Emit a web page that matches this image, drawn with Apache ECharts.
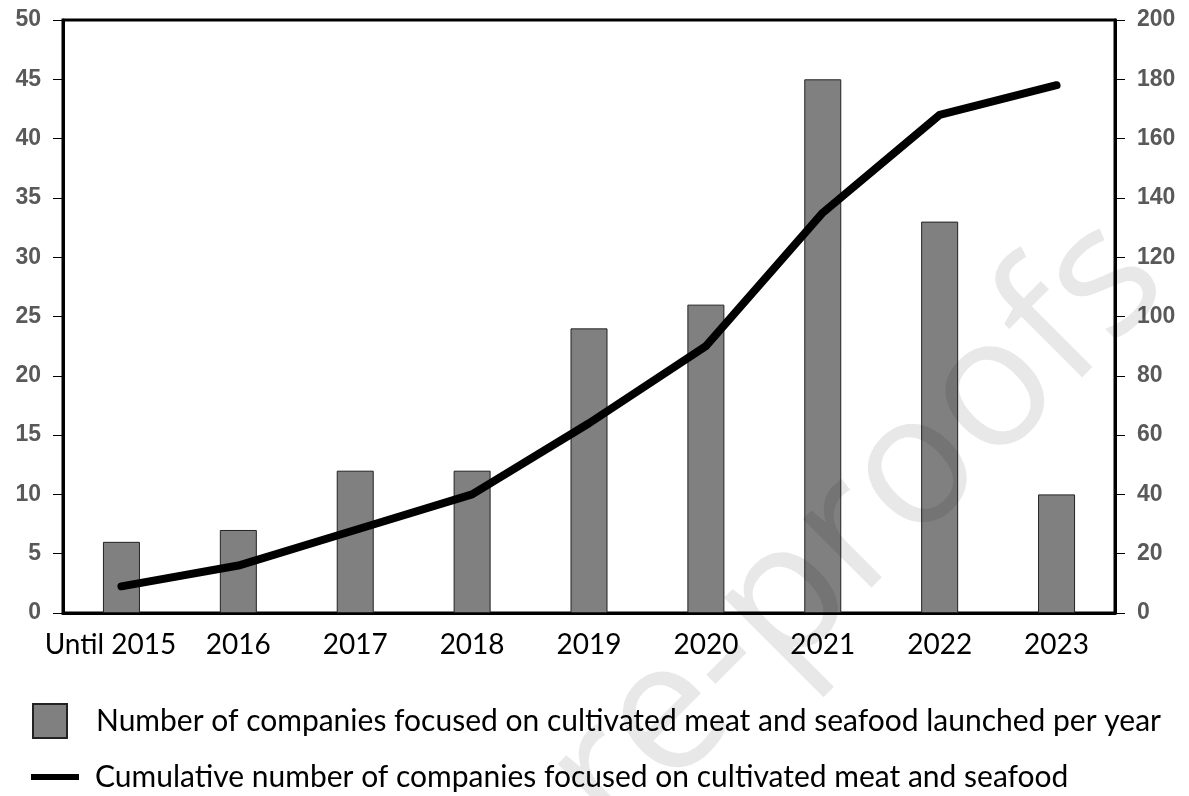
<!DOCTYPE html>
<html>
<head>
<meta charset="utf-8">
<script src="https://cdn.jsdelivr.net/npm/echarts@6/dist/echarts.min.js"></script>
<style>
  html, body { margin: 0; padding: 0; background: #fff; }
  #chart { width: 1189px; height: 796px; }
</style>
</head>
<body>
<div id="chart"></div>
<script>
  // data
  var years = ['Until 2015', '2016', '2017', '2018', '2019', '2020', '2021', '2022', '2023'];
  var launchedPerYear = [6, 7, 12, 12, 24, 26, 45, 33, 10];
  var cumulative = [9, 16, 28, 40, 64, 90, 135, 168, 178];
  var barName = 'Number of companies focused on cultivated meat and seafood launched per year';
  var lineName = 'Cumulative number of companies focused on cultivated meat and seafood';

  var chart = echarts.init(document.getElementById('chart'));

  var tickFont = { fontFamily: 'Liberation Sans', fontWeight: 'bold', fontSize: 23, color: '#595959' };

  // first label sits a little left of its bar in the original
  var xData = years.map(function (y, i) {
    return i === 0 ? { value: y, textStyle: { padding: [0, 22, 0, 0] } } : y;
  });

  var option = {
    backgroundColor: '#fff',
    animation: false,
    grid: {
      left: 63, right: 74, top: 20, bottom: 183,
      show: true, borderColor: '#000', borderWidth: 3
    },
    legend: [
      {
        data: [barName],
        left: 27, top: 698,
        icon: 'rect',
        itemWidth: 34, itemHeight: 34,
        textStyle: { fontFamily: 'Lato', fontSize: 30, color: '#000', padding: [0, 0, 0, 24] }
      },
      {
        data: [lineName],
        left: 26, top: 757,
        icon: 'rect',
        itemWidth: 48, itemHeight: 6,
        textStyle: { fontFamily: 'Lato', fontSize: 30, color: '#000', padding: [0, 0, 0, 11] }
      }
    ],
    xAxis: {
      type: 'category',
      data: xData,
      axisLine: { lineStyle: { color: '#000', width: 3 } },
      axisTick: { show: false },
      axisLabel: { interval: 0, hideOverlap: false, fontFamily: 'Lato', fontSize: 28, color: '#000', margin: 18 }
    },
    yAxis: [
      {
        type: 'value', min: 0, max: 50, interval: 5,
        splitLine: { show: false },
        axisLine: { show: true, lineStyle: { color: '#000', width: 3 } },
        axisTick: { show: true, length: 10, lineStyle: { color: '#000', width: 1 } },
        axisLabel: Object.assign({ margin: 22 }, tickFont)
      },
      {
        type: 'value', min: 0, max: 200, interval: 20,
        splitLine: { show: false },
        axisLine: { show: true, lineStyle: { color: '#000', width: 3 } },
        axisTick: { show: true, length: 10, lineStyle: { color: '#000', width: 1 } },
        axisLabel: Object.assign({ margin: 22 }, tickFont)
      }
    ],
    series: [
      {
        name: barName,
        type: 'bar',
        data: launchedPerYear,
        barWidth: 37,
        itemStyle: { color: '#808080', borderColor: '#222', borderWidth: 1 }
      },
      {
        name: lineName,
        type: 'line',
        yAxisIndex: 1,
        data: cumulative,
        symbol: 'none',
        z: 5,
        itemStyle: { color: '#000' },
        lineStyle: { color: '#000', width: 8, cap: 'round', join: 'round' }
      }
    ],
    // faint "pre-proofs" watermark laid over the figure
    graphic: [
      {
        type: 'text',
        x: 818, y: 568,
        rotation: Math.PI / 4,
        z: 100,
        silent: true,
        style: {
          text: 'pre-proofs',
          fontFamily: 'Open Sans',
          fontSize: 182,
          fill: 'rgba(0,0,0,0.09)',
          align: 'center',
          verticalAlign: 'middle'
        }
      }
    ]
  };

  chart.setOption(option);
</script>
</body>
</html>
